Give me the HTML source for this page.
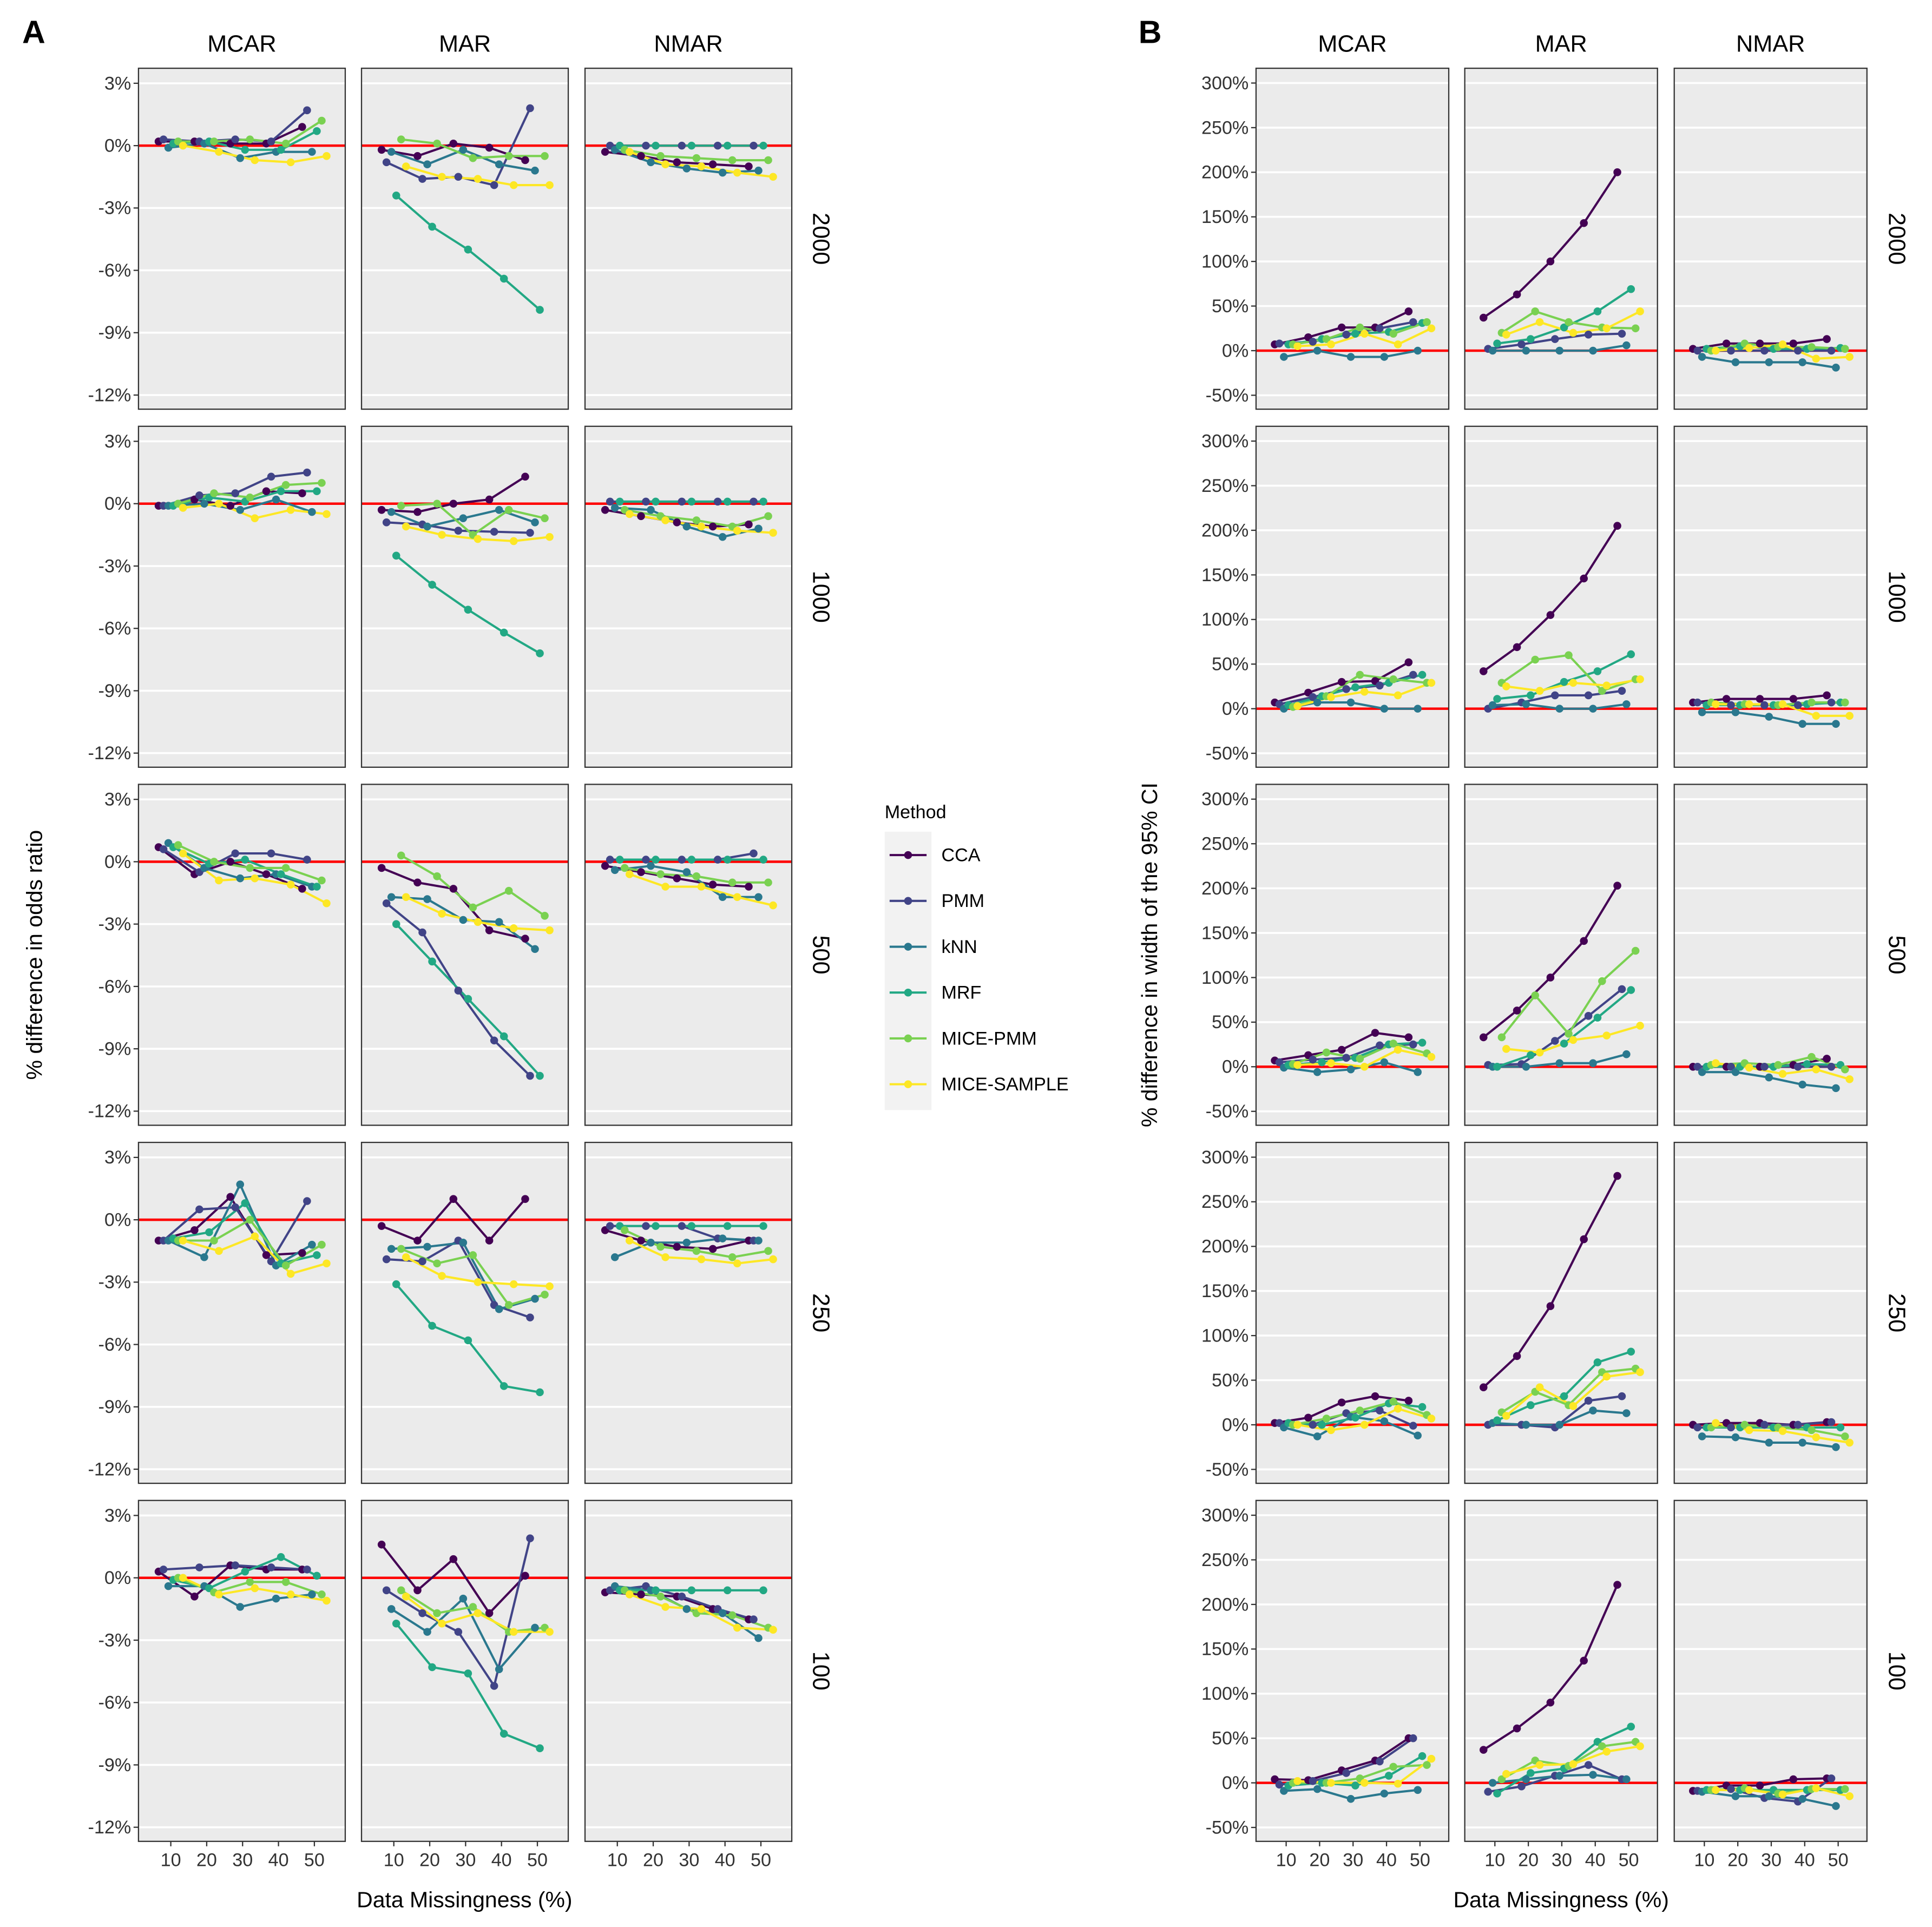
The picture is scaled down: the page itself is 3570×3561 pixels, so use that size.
<!DOCTYPE html>
<html><head><meta charset="utf-8"><title>Missing data imputation comparison</title>
<style>
html,body{margin:0;padding:0;background:#fff;}
svg{display:block;font-family:"Liberation Sans",Arial,sans-serif;}
</style></head>
<body>
<svg id="chart" xmlns="http://www.w3.org/2000/svg" width="3570" height="3561" viewBox="0 0 1568 1564" preserveAspectRatio="none">
<text x="18" y="35" font-size="26" font-weight="bold" fill="#000">A</text>
<text x="924" y="35" font-size="26" font-weight="bold" fill="#000">B</text>
<text transform="translate(34,775) rotate(-90)" text-anchor="middle" font-size="18" fill="#000">% difference in odds ratio</text>
<text transform="translate(939,775) rotate(-90)" text-anchor="middle" font-size="18" fill="#000">% difference in width of the 95% CI</text>
<text x="377" y="1548" text-anchor="middle" font-size="18" fill="#000">Data Missingness (%)</text>
<text x="1267" y="1548" text-anchor="middle" font-size="18" fill="#000">Data Missingness (%)</text>
<g id="legend">
<text x="718" y="664" font-size="15" fill="#000">Method</text>
<rect x="718" y="675" width="38" height="226" fill="#f2f2f2"/>
</g>
<g id="plots"></g>
</svg>
<script>
const methods = ["CCA","PMM","kNN","MRF","MICE-PMM","MICE-SAMPLE"];
const colors = ["#440154","#414487","#2A788E","#22A884","#7AD151","#FDE725"];
const missingness = [10,20,30,40,50];
const sampleSizes = ["2000","1000","500","250","100"];
const mechanisms = ["MCAR","MAR","NMAR"];
const ticksA = [3,0,-3,-6,-9,-12];
const tickLabelsA = ["3%","0%","-3%","-6%","-9%","-12%"];
const ticksB = [300,250,200,150,100,50,0,-50];
const tickLabelsB = ["300%","250%","200%","150%","100%","50%","0%","-50%"];

// Panel A: % difference in odds ratio (rows: CCA, PMM, kNN, MRF, MICE-PMM, MICE-SAMPLE)
const A_2000_MCAR = [[0.2,0.2,0.1,0.1,0.9],[0.3,0.2,0.3,0.2,1.7],[-0.1,0.1,-0.6,-0.3,-0.3],[0.1,0.2,-0.2,-0.2,0.7],[0.2,0.2,0.3,0.1,1.2],[0.0,-0.3,-0.7,-0.8,-0.5]];
const A_2000_MAR = [[-0.2,-0.5,0.1,-0.1,-0.7],[-0.8,-1.6,-1.5,-1.9,1.8],[-0.3,-0.9,-0.2,-0.9,-1.2],[-2.4,-3.9,-5.0,-6.4,-7.9],[0.3,0.1,-0.6,-0.5,-0.5],[-1.0,-1.5,-1.6,-1.9,-1.9]];
const A_2000_NMAR = [[-0.3,-0.5,-0.8,-0.9,-1.0],[0,0,0,0,0],[-0.2,-0.8,-1.1,-1.3,-1.2],[0,0,0,0,0],[-0.2,-0.5,-0.6,-0.7,-0.7],[-0.3,-0.9,-1.0,-1.3,-1.5]];
const A_1000_MCAR = [[-0.1,0.2,-0.1,0.6,0.5],[-0.1,0.4,0.5,1.3,1.5],[-0.1,0.0,-0.3,0.2,-0.4],[-0.1,0.3,0.1,0.6,0.6],[0.0,0.5,0.3,0.9,1.0],[-0.2,0.0,-0.7,-0.3,-0.5]];
const A_1000_MAR = [[-0.3,-0.4,0.0,0.2,1.3],[-0.9,-1.0,-1.3,-1.35,-1.4],[-0.4,-1.1,-0.7,-0.3,-0.9],[-2.5,-3.9,-5.1,-6.2,-7.2],[-0.1,0.0,-1.5,-0.3,-0.7],[-1.1,-1.5,-1.7,-1.8,-1.6]];
const A_1000_NMAR = [[-0.3,-0.6,-0.9,-1.1,-1.0],[0.1,0.1,0.1,0.1,0.1],[-0.2,-0.3,-1.1,-1.6,-1.2],[0.1,0.1,0.1,0.1,0.1],[-0.3,-0.6,-0.8,-1.1,-0.6],[-0.5,-0.8,-1.1,-1.3,-1.4]];
const A_500_MCAR = [[0.7,-0.6,0.0,-0.6,-1.3],[0.6,-0.5,0.4,0.4,0.1],[0.9,-0.3,-0.8,-0.6,-1.2],[0.7,-0.1,0.1,-0.6,-1.2],[0.8,0.0,-0.3,-0.3,-0.9],[0.4,-0.9,-0.8,-1.1,-2.0]];
const A_500_MAR = [[-0.3,-1.0,-1.3,-3.3,-3.7],[-2.0,-3.4,-6.2,-8.6,-10.3],[-1.7,-1.8,-2.8,-2.9,-4.2],[-3.0,-4.8,-6.6,-8.4,-10.3],[0.3,-0.7,-2.2,-1.4,-2.6],[-1.7,-2.5,-2.9,-3.2,-3.3]];
const A_500_NMAR = [[-0.2,-0.5,-0.8,-1.1,-1.2],[0.1,0.1,0.1,0.1,0.4],[-0.4,-0.2,-0.5,-1.7,-1.7],[0.1,0.1,0.1,0.1,0.1],[-0.3,-0.6,-0.7,-1.0,-1.0],[-0.6,-1.2,-1.2,-1.7,-2.1]];
const A_250_MCAR = [[-1.0,-0.5,1.1,-1.7,-1.6],[-1.0,0.5,0.6,-2.0,0.9],[-1.0,-1.8,1.7,-2.2,-1.2],[-0.9,-0.6,0.8,-2.1,-1.7],[-1.0,-1.0,0.0,-2.2,-1.2],[-1.0,-1.5,-0.8,-2.6,-2.1]];
const A_250_MAR = [[-0.3,-1.0,1.0,-1.0,1.0],[-1.9,-2.0,-1.0,-4.1,-4.7],[-1.4,-1.3,-1.1,-4.3,-3.8],[-3.1,-5.1,-5.8,-8.0,-8.3],[-1.4,-2.1,-1.7,-4.1,-3.6],[-1.8,-2.7,-3.0,-3.1,-3.2]];
const A_250_NMAR = [[-0.5,-1.0,-1.3,-1.4,-1.0],[-0.3,-0.3,-0.3,-0.9,-1.0],[-1.8,-1.1,-1.1,-0.9,-1.0],[-0.3,-0.3,-0.3,-0.3,-0.3],[-0.5,-1.3,-1.5,-1.8,-1.5],[-1.0,-1.8,-1.9,-2.1,-1.9]];
const A_100_MCAR = [[0.3,-0.9,0.6,0.4,0.4],[0.4,0.5,0.6,0.5,0.4],[-0.4,-0.4,-1.4,-1.0,-0.8],[-0.1,-0.5,0.3,1.0,0.1],[0.0,-0.7,-0.2,-0.2,-0.8],[0.0,-0.8,-0.5,-0.8,-1.1]];
const A_100_MAR = [[1.6,-0.6,0.9,-1.7,0.1],[-0.6,-1.7,-2.6,-5.2,1.9],[-1.5,-2.6,-1.0,-4.4,-2.4],[-2.2,-4.3,-4.6,-7.5,-8.2],[-0.6,-1.7,-1.4,-2.6,-2.4],[-0.9,-2.2,-1.7,-2.6,-2.6]];
const A_100_NMAR = [[-0.7,-0.8,-0.9,-1.5,-2.0],[-0.6,-0.4,-0.9,-1.5,-2.0],[-0.4,-0.6,-1.5,-1.7,-2.9],[-0.6,-0.6,-0.6,-0.6,-0.6],[-0.6,-0.9,-1.7,-1.8,-2.4],[-0.8,-1.4,-1.5,-2.4,-2.5]];

// Panel B: % difference in width of 95% CI
const B_2000_MCAR = [[7,15,26,26,44],[8,10,18,25,32],[-7,0,-7,-7,0],[7,13,19,21,31],[7,13,26,19,32],[5,7,19,7,25]];
const B_2000_MAR = [[37,63,100,143,200],[2,7,13,18,19],[0,0,0,0,6],[8,13,26,44,69],[20,44,32,26,25],[18,32,20,25,44]];
const B_2000_NMAR = [[2,8,8,8,13],[0,0,0,0,0],[-7,-13,-13,-13,-19],[2,5,2,2,3],[0,8,4,4,2],[0,3,7,-9,-7]];
const B_1000_MCAR = [[7,18,30,31,52],[5,13,22,26,38],[0,7,7,0,0],[4,14,24,29,38],[2,14,38,33,29],[3,13,19,15,29]];
const B_1000_MAR = [[42,69,105,146,205],[0,7,15,15,20],[4,5,0,0,5],[11,15,30,42,61],[29,55,60,20,33],[25,20,29,26,33]];
const B_1000_NMAR = [[7,11,11,11,15],[7,4,4,4,7],[-4,-4,-9,-17,-17],[4,4,4,5,7],[7,5,4,7,7],[5,5,5,-8,-8]];
const B_500_MCAR = [[7,13,19,38,33],[5,8,10,24,25],[-1,-6,-3,5,-6],[2,5,10,25,27],[3,16,9,26,15],[2,4,0,19,11]];
const B_500_MAR = [[33,63,100,141,203],[2,3,29,57,87],[0,0,4,4,14],[0,13,26,55,86],[33,80,37,96,130],[20,16,30,35,46]];
const B_500_NMAR = [[0,0,0,2,9],[0,0,0,0,0],[-6,-6,-12,-20,-24],[0,0,0,3,2],[2,4,2,11,-3],[4,-1,-8,-3,-14]];
const B_250_MCAR = [[2,8,25,32,27],[2,0,13,16,-1],[-3,-13,9,4,-12],[2,0,8,24,20],[0,7,16,26,11],[0,-6,0,18,7]];
const B_250_MAR = [[42,77,133,208,279],[0,0,-3,27,32],[2,0,0,16,13],[5,22,32,70,82],[14,37,22,59,63],[10,42,21,54,59]];
const B_250_NMAR = [[0,2,2,0,3],[-3,-3,0,0,3],[-13,-14,-20,-20,-25],[-3,-3,-3,-3,-3],[-3,0,-3,-6,-13],[2,-6,-7,-14,-20]];
const B_100_MCAR = [[4,3,14,25,50],[-2,2,11,24,50],[-9,-7,-18,-12,-8],[-3,0,-3,8,30],[0,0,5,18,20],[2,0,0,-1,27]];
const B_100_MAR = [[37,61,90,137,222],[-10,-4,8,20,4],[0,4,8,9,4],[-12,11,16,46,63],[4,25,19,41,46],[10,20,21,35,41]];
const B_100_NMAR = [[-9,-3,-3,4,5],[-9,-7,-17,-21,5],[-10,-15,-15,-18,-26],[-8,-8,-8,-8,-8],[-8,-6,-12,-7,-7],[-8,-8,-13,-6,-15]];

const gridA = [[A_2000_MCAR,A_2000_MAR,A_2000_NMAR],[A_1000_MCAR,A_1000_MAR,A_1000_NMAR],[A_500_MCAR,A_500_MAR,A_500_NMAR],[A_250_MCAR,A_250_MAR,A_250_NMAR],[A_100_MCAR,A_100_MAR,A_100_NMAR]];
const gridB = [[B_2000_MCAR,B_2000_MAR,B_2000_NMAR],[B_1000_MCAR,B_1000_MAR,B_1000_NMAR],[B_500_MCAR,B_500_MAR,B_500_NMAR],[B_250_MCAR,B_250_MAR,B_250_NMAR],[B_100_MCAR,B_100_MAR,B_100_NMAR]];

const NS = "http://www.w3.org/2000/svg";
const root = document.getElementById("plots");
function mk(tag, attrs, parent) {
  const el = document.createElementNS(NS, tag);
  for (const k in attrs) el.setAttribute(k, attrs[k]);
  (parent || root).appendChild(el);
  return el;
}
const rowTop0 = 55.4, rowStep = 290.6, rowH = 276.7;
const xDomain = [1, 58.6];
const dodgeStep = 1.36;
function xScale(v, left, w) { return left + (v - xDomain[0]) / (xDomain[1] - xDomain[0]) * w; }
const specs = [
  {key:"a", grid:gridA, lefts:[112.4,293.4,474.8], w:167.8, zeroOff:62.8, perUnit:16.87, ticks:ticksA, labels:tickLabelsA, rowLabelX:660},
  {key:"b", grid:gridB, lefts:[1019.4,1188.8,1358.8], w:156.4, zeroOff:229.2, perUnit:0.724, ticks:ticksB, labels:tickLabelsB, rowLabelX:1533}
];
specs.forEach(function(sp){
  function yScale(v, top) { return top + sp.zeroOff - v * sp.perUnit; }
  mechanisms.forEach(function(mech, c){
    const left = sp.lefts[c];
    const t = mk("text", {x: left + sp.w/2, y: 42, "text-anchor":"middle", "font-size":19, fill:"#000"});
    t.textContent = mech;
    
    
  });
  sampleSizes.forEach(function(size, r){
    const top = rowTop0 + r * rowStep;
    const rl = mk("text", {transform:"translate(" + sp.rowLabelX + "," + (top + rowH/2) + ") rotate(90)", "text-anchor":"middle", "font-size":19, fill:"#000"});
    rl.textContent = size;
    
    
    sp.ticks.forEach(function(tv, i){
      const y = yScale(tv, top);
      const tk = mk("line", {x1: sp.lefts[0]-4, x2: sp.lefts[0], y1:y, y2:y, stroke:"#333", "stroke-width":1});
      
      
      const tl = mk("text", {x: sp.lefts[0]-6, y: y+5, "text-anchor":"end", "font-size":15, fill:"#333"});
      tl.textContent = sp.labels[i];
      
      
    });
    mechanisms.forEach(function(mech, c){
      const left = sp.lefts[c];
      const g = mk("g", {});
      
      
      const bg = mk("rect", {x:left, y:top, width:sp.w, height:rowH, fill:"#EBEBEB"}, g);
      
      
      sp.ticks.forEach(function(tv){
        const y = yScale(tv, top);
        const gl = mk("line", {x1:left, x2:left+sp.w, y1:y, y2:y, stroke:"#fff", "stroke-width":1.6}, g);
        
        
      });
      const zl = mk("line", {x1:left, x2:left+sp.w, y1:yScale(0,top), y2:yScale(0,top), stroke:"#ff0000", "stroke-width":2}, g);
      
      
      const data = sp.grid[r][c];
      data.forEach(function(vals, m){
        const off = (m - 2.5) * dodgeStep;
        const pts = vals.map(function(v, i){ return [xScale(missingness[i] + off, left, sp.w), yScale(v, top)]; });
        const pl = mk("polyline", {points: pts.map(function(p){return p[0].toFixed(2)+","+p[1].toFixed(2);}).join(" "), fill:"none", stroke:colors[m], "stroke-width":1.8, "stroke-linejoin":"round"}, g);
        
        
      });
      data.forEach(function(vals, m){
        const off = (m - 2.5) * dodgeStep;
        vals.forEach(function(v, i){
          const pt = mk("circle", {cx: xScale(missingness[i] + off, left, sp.w), cy: yScale(v, top), r:3.2, fill:colors[m]}, g);
          
          
        });
      });
      const border = mk("rect", {x:left, y:top, width:sp.w, height:rowH, fill:"none", stroke:"#333", "stroke-width":1}, g);
      
      
      if (r === sampleSizes.length - 1) {
        missingness.forEach(function(xv){
          const x = xScale(xv, left, sp.w);
          const xt = mk("line", {x1:x, x2:x, y1:top+rowH, y2:top+rowH+4, stroke:"#333", "stroke-width":1});
          
          
          const xl = mk("text", {x:x, y:top+rowH+20, "text-anchor":"middle", "font-size":15, fill:"#333"});
          xl.textContent = String(xv);
          
          
        });
      }
    });
  });
});
const legend = document.getElementById("legend");
methods.forEach(function(name, m){
  const y = 694 + m * 37.2;
  const ln = mk("line", {x1:722, x2:752, y1:y, y2:y, stroke:colors[m], "stroke-width":1.8}, legend);
  
  
  const dot = mk("circle", {cx:737, cy:y, r:3.2, fill:colors[m]}, legend);
  
  
  const lt = mk("text", {x:764, y:y+5, "font-size":15, fill:"#000"}, legend);
  lt.textContent = name;
  
  
});
</script>
</body></html>
